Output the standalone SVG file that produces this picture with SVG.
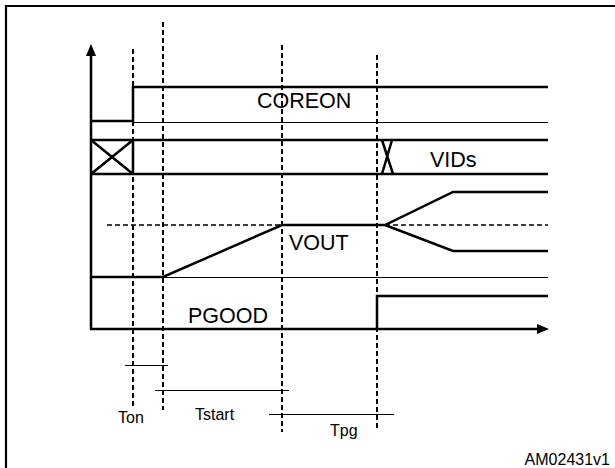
<svg xmlns="http://www.w3.org/2000/svg" width="615" height="468" viewBox="0 0 615 468">
<defs>
<style>
.frame{fill:none;stroke:#000;stroke-width:2.2}
.thick{fill:none;stroke:#000;stroke-width:2.5;stroke-linejoin:miter}
.thin{fill:none;stroke:#000;stroke-width:1}
.dash{fill:none;stroke:#000;stroke-width:2;stroke-dasharray:5,3}
.hdash{fill:none;stroke:#000;stroke-width:1.6;stroke-dasharray:5,3}
.lbl{font-family:"Liberation Sans",Arial,sans-serif;font-size:21.5px;fill:#000}
.sm{font-family:"Liberation Sans",Arial,sans-serif;font-size:16px;fill:#000}
</style>
</defs>
<rect width="615" height="468" fill="#fff"/>
<path class="frame" d="M6,470 V6 H616"/>
<g id="axes">
<path class="thick" d="M91,330 V54"/>
<polygon points="91,44 86,56 96,56" fill="#000"/>
<path class="thick" d="M90,329 H538"/>
<polygon points="549,329 537,324 537,334" fill="#000"/>
</g>
<g id="connectors">
<path class="dash" d="M133,49 V407"/>
<path class="dash" d="M163,22 V410"/>
<path class="dash" d="M282,45 V432"/>
<path class="dash" d="M377,55 V428"/>
</g>
<g id="coreon">
<path class="thick" d="M91,121 H133 V87 H548"/>
<path class="thin" d="M133,122.5 H548"/>
<text class="lbl" x="257" y="108">COREON</text>
</g>
<g id="vids">
<path class="thick" d="M90,140 H548 M90,174 H548 M133,140 V174 M91,140 L133,174 M91,174 L133,140 M382,140 L393,174 M392,140 L382,174"/>
<text class="lbl" x="430" y="167">VIDs</text>
</g>
<g id="vout">
<path class="thick" d="M91,277 H163 L282,225 H377 L385,225 L453,192 H548 M385,225 L453,251 H548"/>
<path class="thin" d="M163,277.5 H548"/>
<path class="hdash" d="M107,225 H282 M385,225 H548"/>
<text class="lbl" x="289" y="250">VOUT</text>
</g>
<g id="pgood">
<path class="thick" d="M377,329 V296 H548"/>
<text class="lbl" x="188" y="323">PGOOD</text>
</g>
<g id="timing">
<path class="thin" d="M125,365.5 H168 M155,390.5 H289 M269,414.5 H394"/>
<text class="sm" x="118" y="423">Ton</text>
<text class="sm" x="195" y="420">Tstart</text>
<text class="sm" x="330" y="436">Tpg</text>
</g>
<text class="sm" x="610" y="465" text-anchor="end">AM02431v1</text>
</svg>
